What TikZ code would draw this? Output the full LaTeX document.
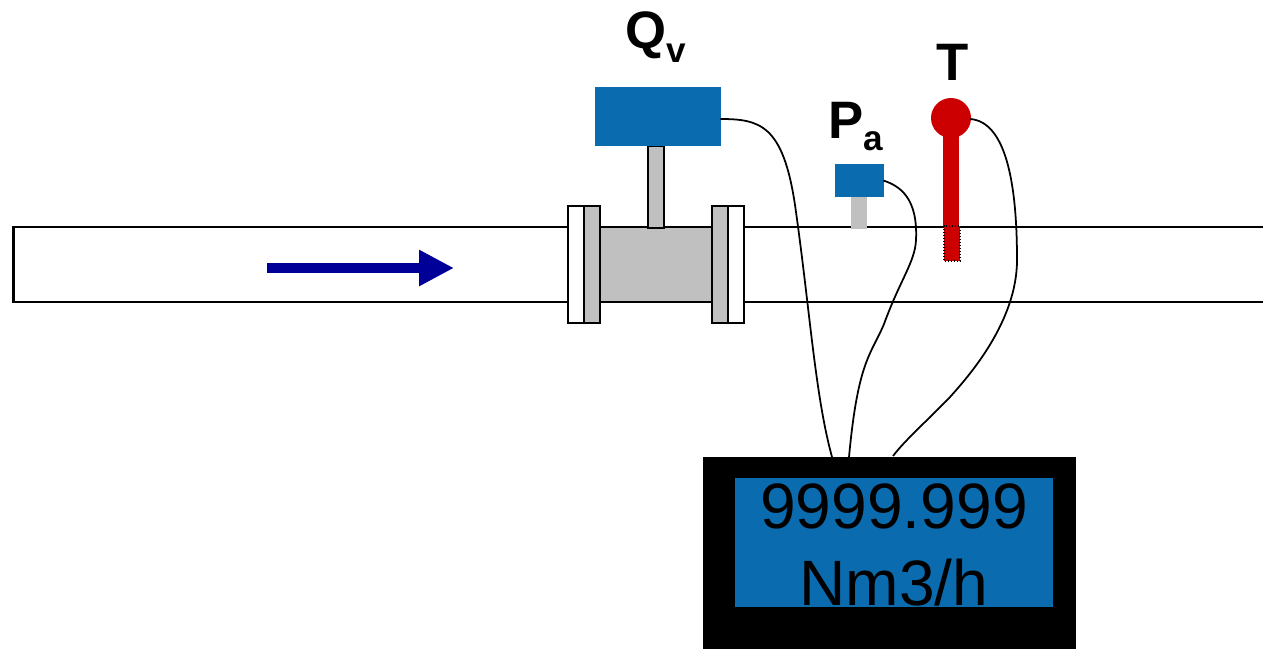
\documentclass[tikz,border=0pt]{standalone}
\usepackage{fontspec}
\setmainfont{Liberation Sans}
\usetikzlibrary{arrows.meta}
\definecolor{lcdblue}{HTML}{0B6BAF}
\definecolor{flowblue}{HTML}{000099}
\definecolor{probered}{HTML}{CC0000}
\definecolor{bodygray}{HTML}{C0C0C0}
\tikzset{
    pipeline/.style={draw=black, line width=1.25pt},
    graypart/.style={pipeline, fill=bodygray},
    whitepart/.style={pipeline, fill=white},
    bluebox/.style={fill=lcdblue, inner sep=0pt},
    wire/.style={black, line width=1pt},
    biglabel/.style={font=\bfseries\fontsize{30}{30}\selectfont, inner sep=0pt, anchor=base},
    lcdtext/.style={font=\fontsize{36.5}{36.5}\selectfont, inner sep=0pt, anchor=base}
}
\newcommand{\sublabel}[1]{{\fontsize{20}{20}\selectfont #1}}
\begin{document}
\begin{tikzpicture}[x=0.02cm, y=-0.02cm]
\useasboundingbox (0,0) rectangle (1263,649);

% Pipe
\draw[pipeline] (1263,227) -- (13.5,227) -- (13.5,302) -- (1263,302);

% Flow arrow
\draw[flowblue, line width=5.7pt, -{Triangle[length=0.7cm, width=0.68cm]}] (267,268) -- (454,268);

% Flow meter
\draw[graypart] (600,227) rectangle (712,302);
\draw[whitepart] (568,206) rectangle (584,323);
\draw[graypart] (584,206) rectangle (600,323);
\draw[graypart] (712,206) rectangle (728,323);
\draw[whitepart] (728,206) rectangle (744,323);
\draw[graypart] (648,146) rectangle (664,228);
\node[bluebox, minimum width=2.52cm, minimum height=1.18cm] (qvbox) at (658,116.5) {};
\node[biglabel] (qvlabel) at (655.5,48) {Q\raisebox{-8pt}{\sublabel{v}}};

% Pressure sensor
\fill[bodygray] (851,197) rectangle (867,229);
\node[bluebox, minimum width=0.98cm, minimum height=0.66cm] (pabox) at (859.5,180.5) {};
\node[biglabel] (palabel) at (856,138) {P\raisebox{-7pt}{\sublabel{a}}};

% Temperature probe
\fill[probered] (943,130) rectangle (959,227);
\fill[probered] (944,226) rectangle (960,261);
\draw[black, densely dotted, line width=0.7pt] (944,226) rectangle (960,261);
\node[circle, fill=probered, inner sep=0pt, minimum size=0.8cm] (tbulb) at (951,118) {};
\node[biglabel] (tlabel) at (953,80) {T};

% Display
\node[fill=black, inner sep=0pt, minimum width=7.46cm, minimum height=3.84cm] (display) at (889.5,553) {};
\node[bluebox, minimum width=6.36cm, minimum height=2.58cm] (lcd) at (894,542.5) {};
\node[lcdtext] (lcdvalue) at (894,528) {9999.999};
\node[lcdtext] (lcdunit) at (894,605) {Nm3/h};

% Wires
\coordinate (wireq) at (832,457);
\coordinate (wirep) at (849,457);
\coordinate (wiret) at (893,456);
\draw[wire] (qvbox.east) ++(-1,2.5) .. controls (760,119) and (783,125) .. (795,205)
    .. controls (810,310) and (815,395) .. (wireq);
\draw[wire] (pabox.east) ++(-1,0) .. controls (900,186) and (918,198) .. (916,240)
    .. controls (915,262) and (900,280) .. (884,324)
    .. controls (871,355) and (858,360) .. (wirep);
\draw[wire] (tbulb.east) ++(-1,1) .. controls (1005,122) and (1017,180) .. (1017,260)
    .. controls (1017,322) and (968,377) .. (950,397)
    .. controls (930,418) and (905,440) .. (wiret);
\end{tikzpicture}
\end{document}
